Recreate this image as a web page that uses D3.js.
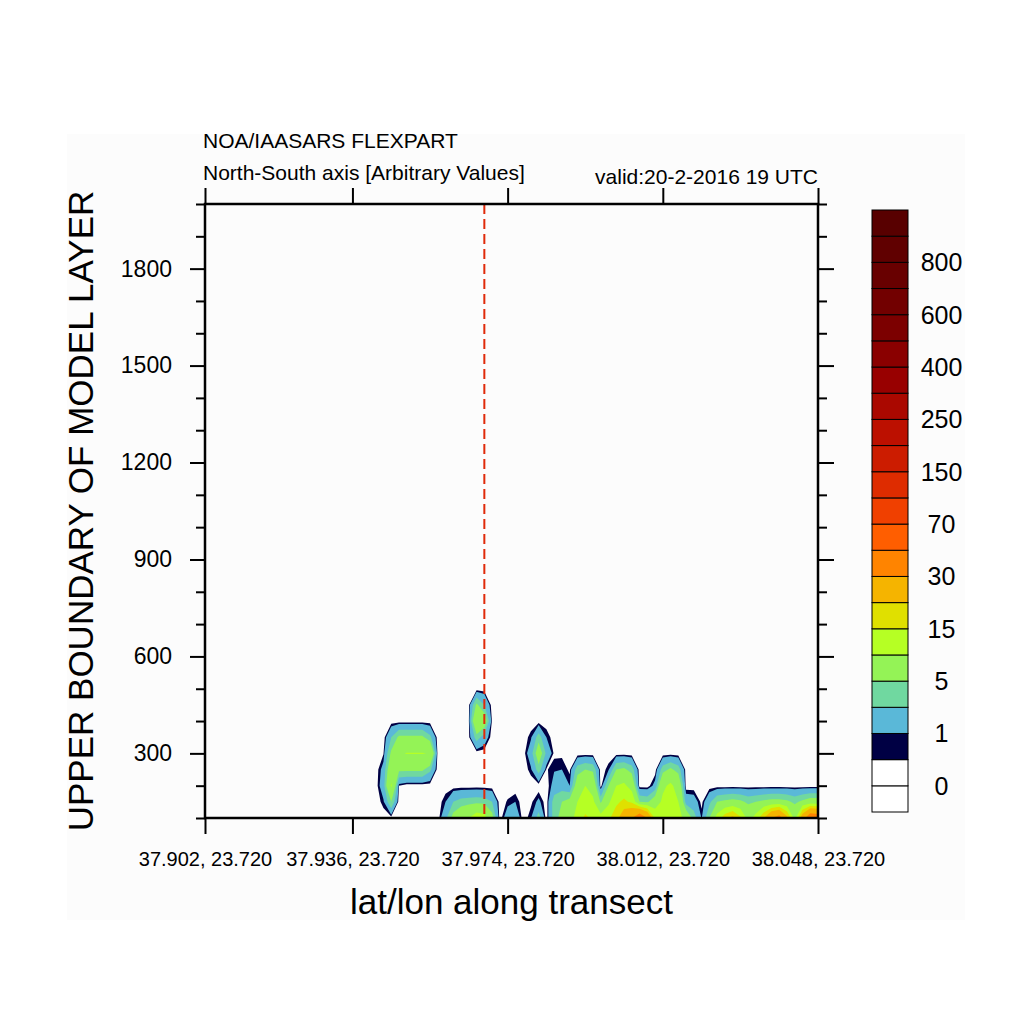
<html>
    <head>
        <script src="https://d3js.org/d3.v7.min.js"></script>
        <style type="text/css">
        body {
            margin: 0;
            background-color: white;
        }
        text {
            font-family: "Liberation Sans", Arial, sans-serif;
        }
        </style>
    </head>
    <body>
        <script>
// points along the transect (0..79) and the lat/lon shown at the ticks
const tickPoints = [0, 19, 39, 59, 79];
const tickLabels = ["37.902, 23.720", "37.936, 23.720", "37.974, 23.720", "38.012, 23.720", "38.048, 23.720"];
const markerPoint = 36;

const heightTicks = [300, 600, 900, 1200, 1500, 1800];
const heightMinor = [100, 200, 400, 500, 700, 800, 1000, 1100, 1300, 1400, 1600, 1700, 1900, 2000];

const levels = [0, 0.5, 1, 3, 5, 10, 15, 20, 30, 50, 70, 100, 150, 200, 250, 300, 400, 500, 600, 700, 800, 900];
const levelLabels = [0, 1, 5, 15, 30, 70, 150, 250, 400, 600, 800];
const colors = ["#ffffff", "#ffffff", "#000044", "#5ab8d8", "#70d8a0", "#94f356", "#b6ff24", "#e0e000",
    "#f5b400", "#ff8400", "#ff5e00", "#f04000", "#de2c00", "#cc1c00", "#bc1000", "#aa0800",
    "#980000", "#8a0000", "#7c0000", "#720000", "#680000", "#600000", "#580000"];

// concentration, transect points 20..79, one array per level height (m)
const firstPoint = 20;
const rowHeights = [100, 150, 200, 250, 300, 350, 400, 450, 500];
const c100 = [0, 0, 0, 0, 0, 0, 0, 0, 0, 0,
    0, 2.5, 6, 8, 10, 13, 12, 6, 0, 2,
    2.5, 0, 0.9, 4, 0, 4, 6, 8, 12, 16,
    14, 12, 14, 18, 25, 30, 40, 30, 14, 12,
    14, 12, 8, 4, 0.9, 5, 12, 18, 22, 16,
    8, 12, 20, 30, 35, 22, 8, 25, 40, 38];
const c150 = [0, 0, 0, 0.8, 5, 0, 0, 0, 0, 0,
    0, 1, 3, 3.8, 4, 4.2, 4, 3, 0, 0.6,
    1, 0, 0.3, 1.3, 0, 4, 5, 6, 10, 12,
    11, 4.5, 9, 14, 16, 14, 5, 4.5, 7, 11,
    13, 10, 2, 1.8, 0.2, 2.5, 5, 5.5, 6, 5.5,
    4.5, 5, 5.5, 6, 6, 5.5, 4.5, 5.5, 6.5, 6.5];
const c200 = [0, 0, 0, 2, 10.5, 0.5, 0, 0, 0, 0,
    0, 0, 0, 0, 0, 0, 0, 0, 0, 0,
    0, 0, 0, 0, 0, 1.6, 2, 1, 7, 10,
    8, 0, 5, 10, 11, 8, 0, 0, 1.5, 9,
    11, 8, 0, 0, 0, 0, 0, 0, 0, 0,
    0, 0, 0, 0, 0, 0, 0, 0, 0, 0];
const c250 = [0, 0, 0, 1.5, 8, 5.5, 5.5, 5.5, 5.5, 3.5,
    0, 0, 0, 0, 0, 0, 0, 0, 0, 0,
    0, 0, 0.8, 4, 0.4, 0.9, 1, 0.3, 4, 5,
    4.5, 0, 0.8, 5, 5.5, 4, 0, 0, 0, 4,
    5.5, 4, 0, 0, 0, 0, 0, 0, 0, 0,
    0, 0, 0, 0, 0, 0, 0, 0, 0, 0];
const c300 = [0, 0, 0, 0.45, 5.5, 9.5, 10.2, 10.2, 10.2, 9.8,
    0, 0, 0, 0, 0, 0, 0, 0, 0, 0,
    0, 0, 2, 7, 2.5, 0.3, 0.3, 0, 0, 0,
    0, 0, 0, 0, 0, 0, 0, 0, 0, 0,
    0, 0, 0, 0, 0, 0, 0, 0, 0, 0,
    0, 0, 0, 0, 0, 0, 0, 0, 0, 0];
const c350 = [0, 0, 0, 0, 3, 5.5, 5.5, 5.5, 5.5, 3.5,
    0, 0, 0, 0, 0.3, 4, 2, 0, 0, 0,
    0, 0, 0.8, 4, 1, 0, 0, 0, 0, 0,
    0, 0, 0, 0, 0, 0, 0, 0, 0, 0,
    0, 0, 0, 0, 0, 0, 0, 0, 0, 0,
    0, 0, 0, 0, 0, 0, 0, 0, 0, 0];
const c400 = [0, 0, 0, 0, 0, 0, 0, 0, 0, 0,
    0, 0, 0, 0, 0.4, 9.5, 7, 0.3, 0, 0,
    0, 0, 0, 0, 0, 0, 0, 0, 0, 0,
    0, 0, 0, 0, 0, 0, 0, 0, 0, 0,
    0, 0, 0, 0, 0, 0, 0, 0, 0, 0,
    0, 0, 0, 0, 0, 0, 0, 0, 0, 0];
const c450 = [0, 0, 0, 0, 0, 0, 0, 0, 0, 0,
    0, 0, 0, 0, 0.3, 5.5, 3, 0, 0, 0,
    0, 0, 0, 0, 0, 0, 0, 0, 0, 0,
    0, 0, 0, 0, 0, 0, 0, 0, 0, 0,
    0, 0, 0, 0, 0, 0, 0, 0, 0, 0,
    0, 0, 0, 0, 0, 0, 0, 0, 0, 0];
const c500 = [0, 0, 0, 0, 0, 0, 0, 0, 0, 0,
    0, 0, 0, 0, 0, 0, 0, 0, 0, 0,
    0, 0, 0, 0, 0, 0, 0, 0, 0, 0,
    0, 0, 0, 0, 0, 0, 0, 0, 0, 0,
    0, 0, 0, 0, 0, 0, 0, 0, 0, 0,
    0, 0, 0, 0, 0, 0, 0, 0, 0, 0];

function init() {
    let width = 1024;
    let height = 1024;
    let left = 205, right = 818, top = 204, bottom = 818;

    let svg = d3.select("body").append("svg")
        .attr("width", width)
        .attr("height", height)
        .attr("viewBox", [0, 0, width, height]);

    svg.append("rect")
        .attr("x", 67)
        .attr("y", 134)
        .attr("width", 898)
        .attr("height", 786)
        .attr("fill", "#fcfcfc");

    let xScale = d3.scaleLinear().domain([0, 79]).range([left, right]);
    let yScale = d3.scaleLinear().domain([100, 2000]).range([bottom, top]);

    svg.append("clipPath").attr("id", "frame")
        .append("rect")
        .attr("x", left)
        .attr("y", top)
        .attr("width", right - left)
        .attr("height", bottom - top);

    // contour fill of the field
    let rows = [c100, c150, c200, c250, c300, c350, c400, c450, c500];
    let nx = c100.length;
    let ny = rows.length;
    let values = [].concat(...rows);
    let step = rowHeights[1] - rowHeights[0];
    let gx = c => xScale(firstPoint + c - 0.5);
    let gy = r => yScale(rowHeights[0] + (r - 0.5) * step);
    let path = d3.geoPath(d3.geoTransform({
        point: function(x, y) { this.stream.point(gx(x), gy(y)); }
    }));
    let contours = d3.contours()
        .size([nx, ny])
        .thresholds(levels.slice(1))(values);

    svg.append("g")
        .attr("clip-path", "url(#frame)")
        .selectAll("path")
        .data(contours)
        .join("path")
        .attr("d", path)
        .attr("fill", (d, i) => colors[i + 2])
        .attr("stroke", "none");

    // marker line
    svg.append("line")
        .attr("x1", xScale(markerPoint))
        .attr("x2", xScale(markerPoint))
        .attr("y1", top)
        .attr("y2", bottom)
        .attr("stroke", "#e02a0a")
        .attr("stroke-width", 2)
        .attr("stroke-dasharray", "10,5");

    // axes
    function styleAxis(g, size) {
        g.select(".domain").remove();
        g.selectAll("line").attr("stroke", "black").attr("stroke-width", 2);
        g.selectAll("text")
            .attr("font-family", "Liberation Sans, Arial, sans-serif")
            .attr("font-size", size)
            .attr("fill", "black");
    }

    svg.append("g")
        .attr("transform", `translate(${left},0)`)
        .call(d3.axisLeft(yScale).tickValues(heightTicks).tickSize(15).tickPadding(18)
            .tickFormat(d3.format("d")))
        .call(g => styleAxis(g, "23px"));
    svg.append("g")
        .attr("transform", `translate(${left},0)`)
        .call(d3.axisLeft(yScale).tickValues(heightMinor).tickSize(9).tickFormat(""))
        .call(g => styleAxis(g, "10px"));
    svg.append("g")
        .attr("transform", `translate(${right},0)`)
        .call(d3.axisRight(yScale).tickValues(heightTicks).tickSize(16).tickFormat(""))
        .call(g => styleAxis(g, "10px"));
    svg.append("g")
        .attr("transform", `translate(${right},0)`)
        .call(d3.axisRight(yScale).tickValues(heightMinor).tickSize(9).tickFormat(""))
        .call(g => styleAxis(g, "10px"));
    svg.append("g")
        .attr("transform", `translate(0,${bottom})`)
        .call(d3.axisBottom(xScale).tickValues(tickPoints).tickSize(16).tickPadding(18)
            .tickFormat((d, i) => tickLabels[i]))
        .call(g => styleAxis(g, "20px"));
    svg.append("g")
        .attr("transform", `translate(0,${top})`)
        .call(d3.axisTop(xScale).tickValues(tickPoints).tickSize(16).tickFormat(""))
        .call(g => styleAxis(g, "10px"));

    svg.append("rect")
        .attr("x", left)
        .attr("y", top)
        .attr("width", right - left)
        .attr("height", bottom - top)
        .attr("fill", "none")
        .attr("stroke", "black")
        .attr("stroke-width", 2.5);

    // titles
    svg.append("text")
        .attr("x", 203)
        .attr("y", 148)
        .attr("font-size", "21px")
        .text("NOA/IAASARS FLEXPART");
    svg.append("text")
        .attr("x", 203)
        .attr("y", 180)
        .attr("font-size", "21px")
        .text("North-South axis [Arbitrary Values]");
    svg.append("text")
        .attr("x", right)
        .attr("y", 184)
        .attr("text-anchor", "end")
        .attr("font-size", "21px")
        .text("valid:20-2-2016 19 UTC");
    svg.append("text")
        .attr("x", (left + right) / 2)
        .attr("y", 914)
        .attr("text-anchor", "middle")
        .attr("font-size", "35px")
        .text("lat/lon along transect");
    svg.append("text")
        .attr("transform", `translate(93,${(top + bottom) / 2}) rotate(-90)`)
        .attr("text-anchor", "middle")
        .attr("font-size", "35px")
        .text("UPPER BOUNDARY OF MODEL LAYER");

    // colour bar
    let barTop = 210, barBottom = 812, barX = 872, barW = 36;
    let boxes = d3.range(colors.length);
    let barScale = d3.scaleBand().domain(boxes).range([barBottom, barTop]);
    let bar = svg.append("g");
    bar.selectAll("rect")
        .data(boxes)
        .join("rect")
        .attr("x", barX)
        .attr("y", d => barScale(d))
        .attr("width", barW)
        .attr("height", barScale.bandwidth())
        .attr("fill", d => colors[d])
        .attr("stroke", "black")
        .attr("stroke-width", 1);
    bar.selectAll("text")
        .data(levelLabels)
        .join("text")
        .attr("x", 941.5)
        .attr("y", d => barScale(levels.indexOf(d)))
        .attr("dy", "0.36em")
        .attr("text-anchor", "middle")
        .attr("font-size", "25px")
        .text(d => d);
}
init();
        </script>
    </body>
</html>
